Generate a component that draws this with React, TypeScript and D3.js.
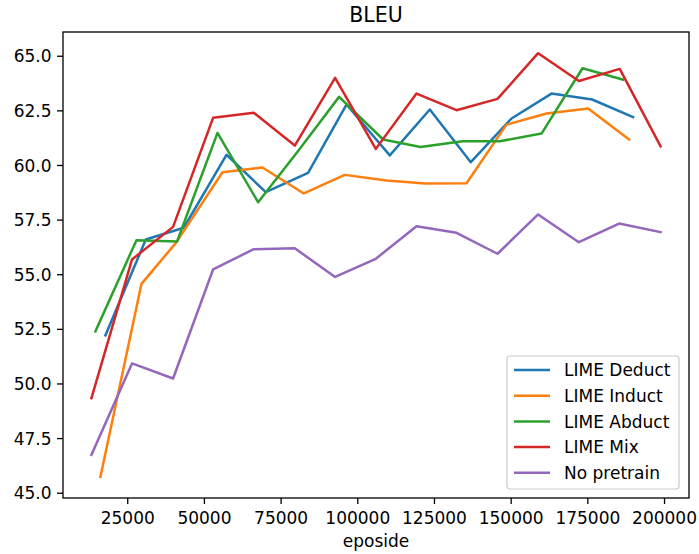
import * as d3 from "d3";

// episode steps
const stepsMix = [13170, 26400, 39780, 52820, 66090, 79460, 92600, 105870, 119140, 132180, 145550, 158790, 172060, 185400, 198700];
const stepsNoPre = [13170, 26400, 39780, 52820, 66090, 79460, 92600, 105870, 119140, 132180, 145550, 158790, 172060, 185200, 198700];
const stepsDeduct = [17730, 30880, 43270, 57190, 70000, 83800, 96310, 110430, 123480, 136840, 150110, 163160, 176400, 189760];
const stepsInduct = [16100, 29470, 40890, 55880, 68920, 82400, 95760, 109360, 122070, 135440, 148480, 161520, 175090, 188460];
const stepsAbduct = [14470, 27840, 41080, 54250, 67500, 80800, 93900, 108250, 120440, 134130, 146300, 159890, 173260, 186500];

// BLEU values
const bleuDeduct = [52.23, 56.61, 57.15, 60.49, 58.78, 59.66, 62.79, 60.46, 62.56, 60.15, 62.15, 63.29, 63.02, 62.21];
const bleuInduct = [45.75, 54.58, 56.49, 59.69, 59.91, 58.72, 59.57, 59.31, 59.17, 59.19, 61.87, 62.38, 62.61, 61.19];
const bleuAbduct = [52.41, 56.58, 56.52, 61.49, 58.32, 60.71, 63.14, 61.19, 60.85, 61.11, 61.11, 61.46, 64.45, 63.93];
const bleuMix = [49.35, 55.7, 57.19, 62.18, 62.41, 60.91, 64.01, 60.76, 63.29, 62.53, 63.05, 65.14, 63.87, 64.42, 60.88];
const bleuNoPre = [46.76, 50.94, 50.25, 55.24, 56.17, 56.21, 54.9, 55.73, 57.22, 56.92, 55.96, 57.76, 56.49, 57.34, 56.95];

const labels = ["LIME Deduct", "LIME Induct", "LIME Abduct", "LIME Mix", "No pretrain"];
const colors = ["#1f77b4", "#ff7f0e", "#2ca02c", "#d62728", "#9467bd"];
const xTicks = [25000, 50000, 75000, 100000, 125000, 150000, 175000, 200000];
const yTicks = [45, 47.5, 50, 52.5, 55, 57.5, 60, 62.5, 65];

const series = [
  { xs: stepsDeduct, ys: bleuDeduct },
  { xs: stepsInduct, ys: bleuInduct },
  { xs: stepsAbduct, ys: bleuAbduct },
  { xs: stepsMix, ys: bleuMix },
  { xs: stepsNoPre, ys: bleuNoPre },
];

const W = 699, H = 554;
const left = 63, right = 689, top = 32, bottom = 498;
const font = "DejaVu Sans, sans-serif";

export default function App() {
  // matplotlib style 5% margins around the data
  const allX = series.flatMap((s) => s.xs);
  const allY = series.flatMap((s) => s.ys);
  const [x0, x1] = d3.extent(allX) as [number, number];
  const [y0, y1] = d3.extent(allY) as [number, number];
  const dx = (x1 - x0) * 0.05, dy = (y1 - y0) * 0.05;

  const x = d3.scaleLinear().domain([x0 - dx, x1 + dx]).range([left, right]);
  const y = d3.scaleLinear().domain([y0 - dy, y1 + dy]).range([bottom, top]);

  const line = d3
    .line<[number, number]>()
    .x((d) => x(d[0]))
    .y((d) => y(d[1]));

  const legX = 507, legY = 356, legW = 172, legH = 133;

  return (
    <svg width={W} height={H} style={{ position: "absolute", left: 0, top: 0 }} fontFamily={font}>
      <rect width={W} height={H} fill="#fff" />
      {series.map((s, i) => (
        <path
          key={labels[i]}
          d={line(s.xs.map((v, j) => [v, s.ys[j]] as [number, number])) ?? ""}
          fill="none"
          stroke={colors[i]}
          strokeWidth={2.5}
          strokeLinejoin="round"
          strokeLinecap="square"
        />
      ))}
      <rect x={left} y={top} width={right - left} height={bottom - top} fill="none" stroke="#000" strokeWidth={1.3} />
      {xTicks.map((t) => (
        <g key={t} transform={`translate(${x(t)},${bottom})`}>
          <line y2={6} stroke="#000" strokeWidth={1.3} />
          <text y={26.3} textAnchor="middle" fontSize={17} fill="#000">{t}</text>
        </g>
      ))}
      {yTicks.map((t) => (
        <g key={t} transform={`translate(${left},${y(t)})`}>
          <line x2={-6} stroke="#000" strokeWidth={1.3} />
          <text x={-11.5} dy="0.36em" textAnchor="end" fontSize={17} fill="#000">{t.toFixed(1)}</text>
        </g>
      ))}
      <text x={(left + right) / 2} y={22} textAnchor="middle" fontSize={20.5} fill="#000">BLEU</text>
      <text x={(left + right) / 2} y={547} textAnchor="middle" fontSize={17} fill="#000">eposide</text>
      <rect x={legX} y={legY} width={legW} height={legH} rx={3} fill="#fff" fillOpacity={0.8} stroke="#ccc" strokeWidth={1.2} />
      {labels.map((l, i) => (
        <g key={l} transform={`translate(${legX},${legY + 14 + i * 25.7})`}>
          <line x1={7} x2={43} stroke={colors[i]} strokeWidth={2.5} />
          <text x={57} dy="0.36em" fontSize={17} fill="#000">{l}</text>
        </g>
      ))}
    </svg>
  );
}
